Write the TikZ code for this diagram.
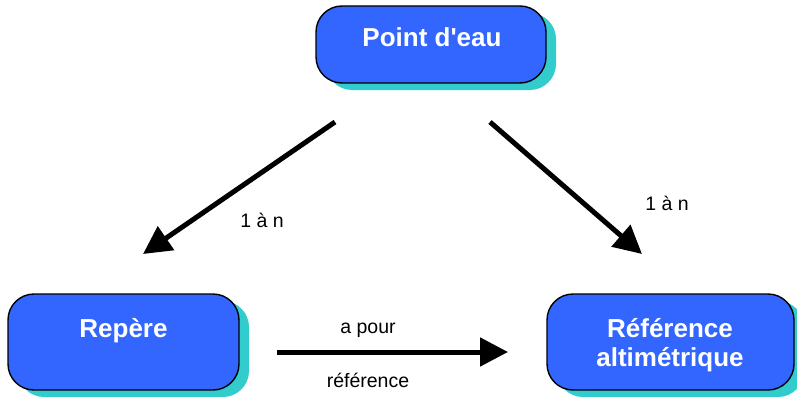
\documentclass[tikz,border=0pt]{standalone}
\usepackage{fontspec}
\setmainfont{Liberation Sans}
\usetikzlibrary{arrows.meta,shadows}
\definecolor{boxblue}{HTML}{3366FF}
\definecolor{shadowcyan}{HTML}{33CCCC}
\tikzset{
  entity/.style={draw=black, line width=1.4pt, fill=boxblue, rounded corners=26pt,
    inner sep=0pt,
    drop shadow={shadow xshift=10pt, shadow yshift=-7pt, fill=shadowcyan, opacity=1}},
  etext/.style={text=white, font=\fontsize{26}{30}\selectfont\bfseries, anchor=base, inner sep=0pt, align=center},
  rel/.style={line width=5pt, -{Triangle[length=28pt,width=28pt]}},
  rtext/.style={font=\fontsize{19.5}{22}\selectfont, inner sep=0pt}
}
\begin{document}
\begin{tikzpicture}[x=1pt,y=-1pt]
\useasboundingbox (0,0) rectangle (797,396);
% boxes
\node[entity, minimum width=230pt, minimum height=77pt] (pe) at (431,44.5) {};
\node[entity, minimum width=231pt, minimum height=96pt] (rep) at (123.5,342) {};
\node[entity, minimum width=247pt, minimum height=96pt] (ref) at (670.5,342) {};
% texts
\node[etext] (pet) at (432,47) {Point d\textquotesingle eau};
\node[etext] (rept) at (123.5,337) {Repère};
\node[etext] (reft1) at (670,337) {Référence};
\node[etext] (reft2) at (670,366) {altimétrique};
% connector endpoints
\coordinate (a1s) at (335,122);
\coordinate (a1e) at (143,254);
\coordinate (a2s) at (490,122);
\coordinate (a2e) at (642,254);
\coordinate (a3s) at (277,352);
\coordinate (a3e) at (508,352);
\draw[rel] (a1s) -- (a1e);
\draw[rel] (a2s) -- (a2e);
\draw[rel] (a3s) -- (a3e);
% labels
\node[rtext] (l1) at (262,220) {1 à n};
\node[rtext] (l2) at (667,203) {1 à n};
\node[rtext] (l3) at (368,330) {a pour};
\node[rtext] (l4) at (368,380) {référence};
\end{tikzpicture}
\end{document}
